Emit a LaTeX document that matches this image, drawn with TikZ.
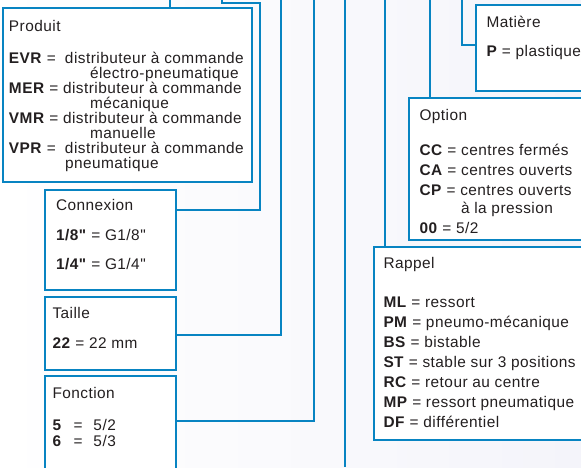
\documentclass[tikz,border=0pt]{standalone}
\usepackage{fontspec}
\setmainfont{Liberation Sans}[LetterSpace=3, Ligatures=TeXOff]
\definecolor{lineblue}{RGB}{8,132,194}
\definecolor{ink}{RGB}{35,31,32}
\definecolor{bgright}{RGB}{244,244,250}
\begin{document}
\begin{tikzpicture}[x=1pt,y=-1pt,
  box/.style={draw=lineblue, line width=2.8pt, fill=white, inner sep=0pt, outer sep=0pt},
  conn/.style={draw=lineblue, line width=2.8pt},
  txt/.style={anchor=base west, inner sep=0pt, outer sep=0pt, text=ink, font=\fontsize{15.4}{18}\selectfont}]
\clip (0,0) rectangle (581,467);
\shade[left color=white, right color=bgright] (0,0) rectangle (581,467);
% boxes
\node[box, minimum width=249pt, minimum height=174pt] (prod) at (127.5,95) {};
\node[box, minimum width=131pt, minimum height=100pt] (conx) at (110.5,240) {};
\node[box, minimum width=131pt, minimum height=73pt] (taille) at (110.5,333.5) {};
\node[box, minimum width=131pt, minimum height=114pt] (fonc) at (110.5,433) {};
\node[box, minimum width=144pt, minimum height=86pt] (mat) at (548,48) {};
\node[box, minimum width=211pt, minimum height=142pt] (opt) at (514.5,169) {};
\node[box, minimum width=246pt, minimum height=193pt] (rap) at (497,343.5) {};
% free ends
\coordinate (e1) at (170,0);
\coordinate (e2) at (222,0);
\coordinate (e3) at (281,0);
\coordinate (e4) at (314,0);
\coordinate (e5a) at (345,0);
\coordinate (e5b) at (345,467);
\coordinate (e6) at (385,0);
\coordinate (e7) at (430,0);
\coordinate (e8) at (462,0);
% connectors
\draw[conn] (prod.north -| e1) -- (e1);
\draw[conn] (conx.east |- 0,210) -- (260,210) -- (260,3) -- (222,3) -- (e2);
\draw[conn] (taille.east |- 0,335) -- (281,335) -- (e3);
\draw[conn] (fonc.east |- 0,421) -- (314,421) -- (e4);
\draw[conn] (e5a) -- (e5b);
\draw[conn] (rap.north -| e6) -- (e6);
\draw[conn] (opt.north -| e7) -- (e7);
\draw[conn] (mat.west |- 0,45) -- (462,45) -- (e8);
% Produit
\node[txt] (p0) at (9,31.5) {Produit};
\node[txt] (p1) at (9,63) {\makebox[56pt][l]{\textbf{EVR} =}distributeur à commande};
\node[txt] (p2) at (90,78) {électro-pneumatique};
\node[txt] (p3) at (9,93) {\textbf{MER} = distributeur à commande};
\node[txt] (p4) at (90,108) {mécanique};
\node[txt] (p5) at (9,123) {\textbf{VMR} = distributeur à commande};
\node[txt] (p6) at (90,138) {manuelle};
\node[txt] (p7) at (9,153) {\makebox[56pt][l]{\textbf{VPR} =}distributeur à commande};
\node[txt] (p8) at (65,168) {pneumatique};
% Connexion
\node[txt] (c0) at (56,210.5) {Connexion};
\node[txt] (c1) at (56,240) {\textbf{1/8"} = G1/8"};
\node[txt] (c2) at (56,269.5) {\textbf{1/4"} = G1/4"};
% Taille
\node[txt] (ta0) at (52.5,318.5) {Taille};
\node[txt] (ta1) at (52.5,348) {\textbf{22} = 22 mm};
% Fonction
\node[txt] (f0) at (52.5,398.5) {Fonction};
\node[txt] (f1) at (52.5,430) {\makebox[21pt][l]{\textbf{5}}\makebox[20pt][l]{=}5/2};
\node[txt] (f2) at (52.5,446.5) {\makebox[21pt][l]{\textbf{6}}\makebox[20pt][l]{=}5/3};
% Matiere
\node[txt] (m0) at (486.5,27.5) {Matière};
\node[txt] (m1) at (486.5,56) {\textbf{P} = plastique};
% Option
\node[txt] (o0) at (419.5,120.5) {Option};
\node[txt] (o1) at (419.5,155) {\textbf{CC} = centres fermés};
\node[txt] (o2) at (419.5,175) {\textbf{CA} = centres ouverts};
\node[txt] (o3) at (419.5,195) {\textbf{CP} = centres ouverts};
\node[txt] (o4) at (461,213.5) {à la pression};
\node[txt] (o5) at (419.5,233.5) {\textbf{00} = 5/2};
% Rappel
\node[txt] (r0) at (383.5,268.5) {Rappel};
\node[txt] (r1) at (383.5,307.5) {\textbf{ML} = ressort};
\node[txt] (r2) at (383.5,327.5) {\textbf{PM} = pneumo-mécanique};
\node[txt] (r3) at (383.5,347) {\textbf{BS} = bistable};
\node[txt] (r4) at (383.5,367) {\textbf{ST} = stable sur 3 positions};
\node[txt] (r5) at (383.5,387.5) {\textbf{RC} = retour au centre};
\node[txt] (r6) at (383.5,407.5) {\textbf{MP} = ressort pneumatique};
\node[txt] (r7) at (383.5,427) {\textbf{DF} = différentiel};
\end{tikzpicture}
\end{document}
